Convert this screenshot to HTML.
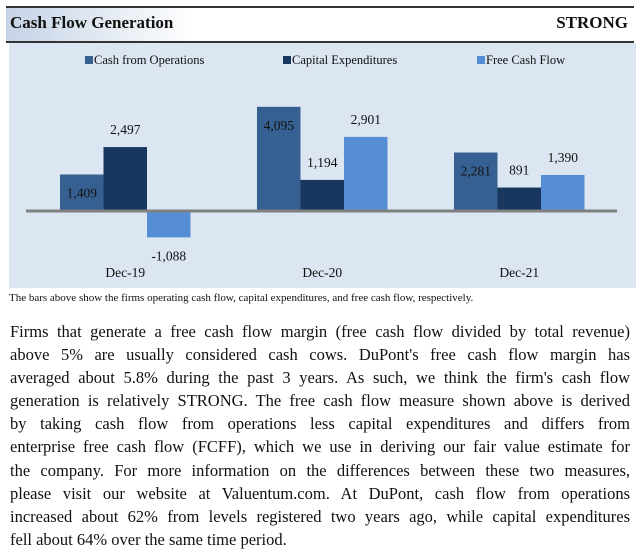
<!DOCTYPE html>
<html><head><meta charset="utf-8">
<style>
body{margin:0;width:640px;height:551px;background:#fff;font-family:"Liberation Serif",serif;position:relative;overflow:hidden}
#title-bar{position:absolute;left:6px;top:6px;width:628px;height:33px;border-top:2px solid #333;border-bottom:2px solid #333;background:linear-gradient(90deg,#c5d3e6 0%,#fff 30%,#fff 100%)}
#title{position:absolute;left:4px;top:5px;font-weight:bold;font-size:17px;color:#111}
#rating{position:absolute;right:6px;top:5px;font-weight:bold;font-size:17px;color:#111}
#chart{position:absolute;left:9px;top:43px}
#footnote{position:absolute;left:9px;top:292px;font-size:11px;color:#111}
#para{position:absolute;left:10px;top:320px;width:620px;font-size:16.5px;line-height:23.1px;color:#111}
#para div{text-align:justify;text-align-last:justify;white-space:nowrap}
#para div.last{text-align-last:left}
</style></head><body>
<div id="title-bar">
<div id="title">Cash Flow Generation</div>
<div id="rating">STRONG</div>
</div>
<svg id="chart" width="627" height="245" font-family="Liberation Serif, serif"></svg>
<div id="footnote">The bars above show the firms operating cash flow, capital expenditures, and free cash flow, respectively.</div>
<div id="para">
<div>Firms that generate a free cash flow margin (free cash flow divided by total revenue)</div>
<div>above 5% are usually considered cash cows. DuPont's free cash flow margin has</div>
<div>averaged about 5.8% during the past 3 years. As such, we think the firm's cash flow</div>
<div>generation is relatively STRONG. The free cash flow measure shown above is derived</div>
<div>by taking cash flow from operations less capital expenditures and differs from</div>
<div>enterprise free cash flow (FCFF), which we use in deriving our fair value estimate for</div>
<div>the company. For more information on the differences between these two measures,</div>
<div>please visit our website at Valuentum.com. At DuPont, cash flow from operations</div>
<div>increased about 62% from levels registered two years ago, while capital expenditures</div>
<div class="last">fell about 64% over the same time period.</div>
</div>
<script>
const categories=["Dec-19","Dec-20","Dec-21"];
const seriesNames=["Cash from Operations","Capital Expenditures","Free Cash Flow"];
const cfo=[1409,4095,2281];
const capex=[2497,1194,891];
const fcf=[-1088,2901,1390];
const labels=[["1,409","4,095","2,281"],["2,497","1,194","891"],["-1,088","2,901","1,390"]];
const colors=["#376092","#17375e","#558ed5"];
const svg=document.getElementById('chart');
const NS="http://www.w3.org/2000/svg";
function mk(t,a){const e=document.createElementNS(NS,t);for(const k in a)e.setAttribute(k,a[k]);svg.appendChild(e);return e;}
const bg=mk('rect',{x:0,y:0,width:627,height:245,fill:'#dce6f2'});


const base=167, k=0.0252;
function yv(v){return base-v*k;}
function gx(i){return 51+i*197;}
const bw=43.5;
const series=[cfo,capex,fcf];
const lx=[76,274,468];
seriesNames.forEach((n,s)=>{
 const r=mk('rect',{x:lx[s],y:13,width:8,height:8,fill:colors[s]});
 
 
 const t=mk('text',{x:lx[s]+9,y:21,'font-size':12.5,fill:'#111'});t.textContent=n;
 
 
});
series.forEach((arr,s)=>{
 arr.forEach((v,i)=>{
  const x=gx(i)+s*bw;
  const y0=Math.min(yv(v),base), h=Math.abs(yv(v)-base);
  const r=mk('rect',{x:x,y:y0,width:bw,height:h,fill:colors[s]});
  
  
  let ly;
  if(s===0) ly=yv(v)+23;
  else if(v>=0) ly=yv(v)-13;
  else ly=yv(v)+23;
  const t=mk('text',{x:x+bw/2,y:ly,'font-size':13.5,'text-anchor':'middle',fill:'#111'});
  t.textContent=labels[s][i];
  
  
 });
});
const ax=mk('line',{x1:17,x2:608,y1:base+1,y2:base+1,stroke:'#808080','stroke-width':3});


categories.forEach((c,i)=>{
 const t=mk('text',{x:gx(i)+bw*1.5,y:234,'font-size':13.5,'text-anchor':'middle',fill:'#111'});
 t.textContent=c;
 
 
});
</script>
</body></html>
